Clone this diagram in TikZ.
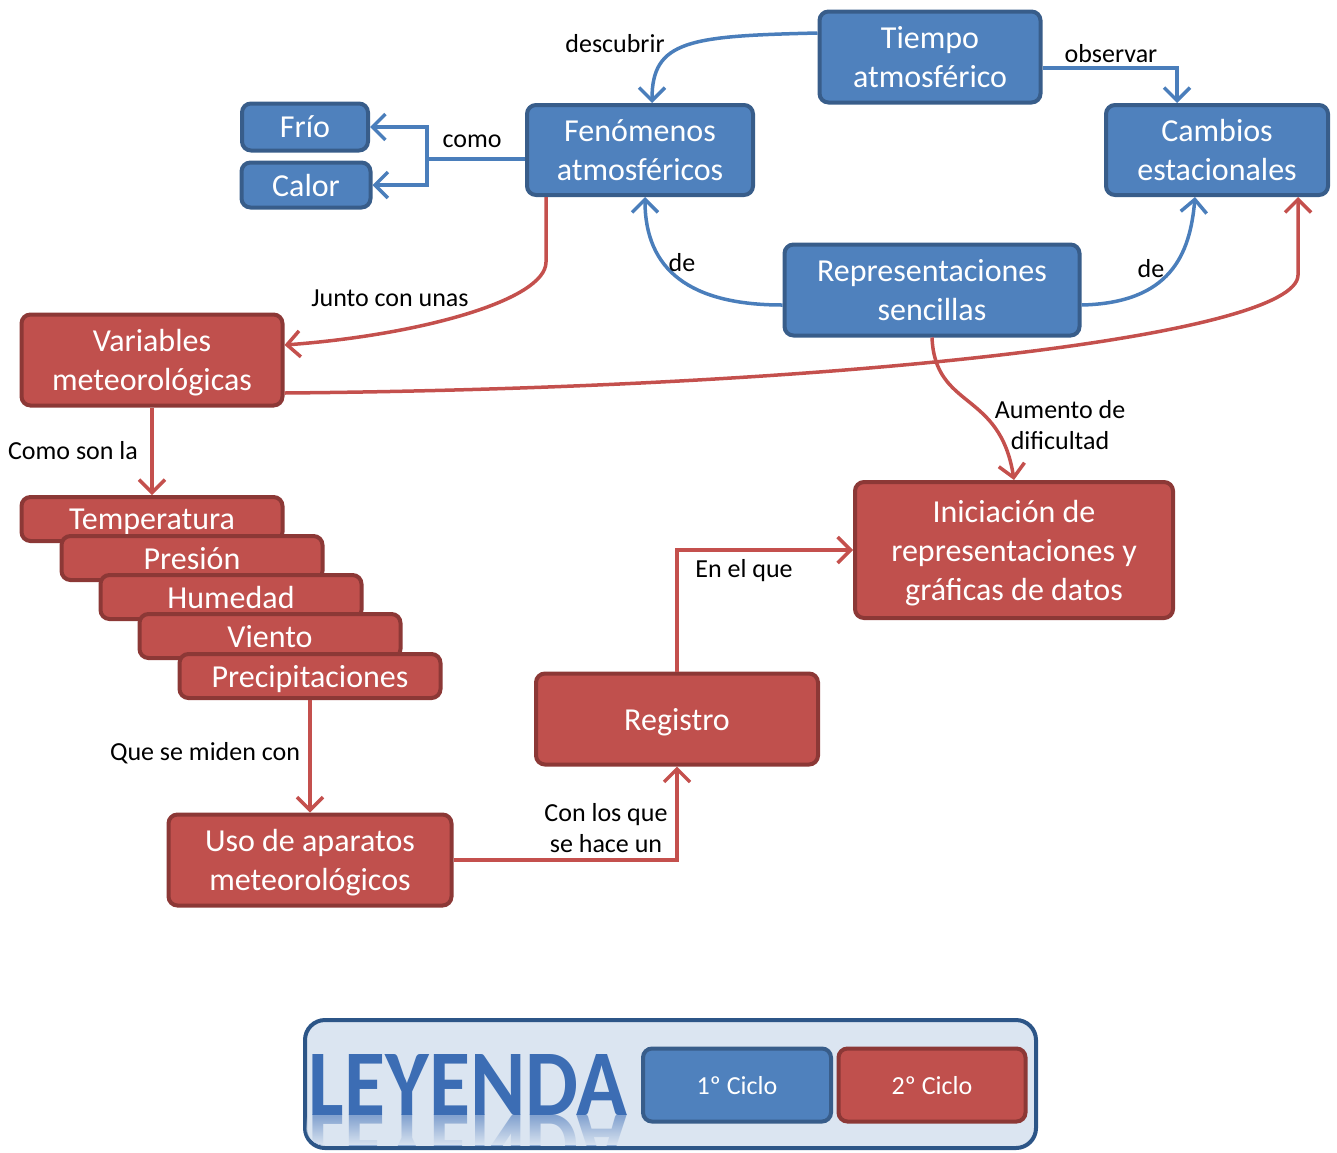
\documentclass[tikz,border=0pt]{standalone}
\usepackage{fontspec}
\setmainfont{Carlito}
\usetikzlibrary{arrows.meta,fadings}
\definecolor{azul}{HTML}{4F81BD}
\definecolor{azulborde}{HTML}{385D8A}
\definecolor{azullinea}{HTML}{4A7EBB}
\definecolor{rojo}{HTML}{C0504D}
\definecolor{rojoborde}{HTML}{8C3836}
\definecolor{rojolinea}{HTML}{C4504D}
\definecolor{fondoley}{HTML}{DBE5F1}
\definecolor{bordeley}{HTML}{2C5587}
\definecolor{letraley}{HTML}{3C6DB4}
\tikzfading[name=bajada,top color=transparent!100,bottom color=transparent!0]

\begin{document}
\begin{tikzpicture}[x=1pt,y=-1pt,
  caja/.style={rounded corners=9pt,line width=4pt,text=white,align=center,
    inner sep=0pt,text depth=-6pt,font=\fontsize{32}{39}\selectfont},
  una/.style={text depth=0pt},
  cazul/.style={caja,fill=azul,draw=azulborde},
  crojo/.style={caja,fill=rojo,draw=rojoborde},
  lista/.style={crojo,una,minimum width=261pt,minimum height=44pt},
  flecha/.style={line width=3.5pt,-{Straight Barb[length=13pt,width=26pt]}},
  fazul/.style={flecha,draw=azullinea},
  frojo/.style={flecha,draw=rojolinea},
  etiq/.style={inner sep=0pt,align=center,font=\fontsize{26}{31}\selectfont}]
  \useasboundingbox (0,0) rectangle (1337,1152);

  % primer ciclo
  \node[cazul,minimum width=221pt,minimum height=91pt] (tiempo) at (930,57) {Tiempo\\atmosférico};
  \node[cazul,minimum width=226pt,minimum height=90pt] (fen) at (640,150) {Fenómenos\\atmosféricos};
  \node[cazul,minimum width=222pt,minimum height=90pt] (camb) at (1217,150) {Cambios\\estacionales};
  \node[cazul,una,minimum width=126pt,minimum height=47pt] (frio) at (305,127) {Frío};
  \node[cazul,una,minimum width=129pt,minimum height=45pt] (calor) at (306,185) {Calor};
  \node[cazul,minimum width=295pt,minimum height=91pt] (rep) at (932,290) {Representaciones\\sencillas};

  % segundo ciclo
  \node[crojo,minimum width=261pt,minimum height=91pt] (var) at (152,360) {Variables\\meteorológicas};
  \node[lista] (temp) at (152,519) {Temperatura};
  \node[lista] (pres) at (192,558) {Presión};
  \node[lista] (hum) at (231,597) {Humedad};
  \node[lista] (vien) at (270,636) {Viento};
  \node[lista] (prec) at (310,676) {Precipitaciones};
  \node[crojo,minimum width=318pt,minimum height=136pt] (ini) at (1014,550) {Iniciación de\\representaciones y\\gráficas de datos};
  \node[crojo,una,minimum width=282pt,minimum height=91pt] (reg) at (677,719) {Registro};
  \node[crojo,minimum width=283pt,minimum height=91pt] (uso) at (310,860) {Uso de aparatos\\meteorológicos};

  % conectores azules
  \draw[fazul] ([yshift=24pt]tiempo.west) .. controls (690,36) and (652,40) .. ([xshift=12pt]fen.north);
  \draw[fazul] ([yshift=-11pt]tiempo.east) -| ([xshift=-40pt]camb.north);
  \coordinate (como) at (427,159);
  \draw[azullinea,line width=3.5pt] ([yshift=-9pt]fen.west) -- (como);
  \draw[fazul] (como) |- (frio.east);
  \draw[fazul] (como) |- (calor.east);
  \draw[fazul] ([yshift=-15pt]rep.west) .. controls (690,305) and (645,270) .. ([xshift=5pt]fen.south);
  \draw[fazul] ([yshift=-15pt]rep.east) .. controls (1170,303) and (1190,255) .. ([xshift=-22pt]camb.south);

  % conectores rojos
  \draw[frojo] ([xshift=-94pt]fen.south) -- (546,262) .. controls (546,300) and (420,335) .. ([yshift=15pt]var.east);
  \draw[frojo] ([yshift=-33pt]var.east) .. controls (850,388) and (1298,335) .. (1298,275) -- ([xshift=81pt]camb.south);
  \draw[frojo] (rep.south) .. controls (935,410) and (1000,390) .. (ini.north);
  \draw[frojo] (var.south) -- (temp.north);
  \draw[frojo] (prec.south) -- (uso.north);
  \draw[frojo] (uso.east) -| (reg.south);
  \draw[frojo] (reg.north) |- (ini.west);

  % etiquetas
  \node[etiq] (ldesc) at (615,44) {descubrir};
  \node[etiq] (lobs) at (1111,54) {observar};
  \node[etiq] (lcomo) at (472,141) {como};
  \node[etiq] (lde1) at (682,263) {de};
  \node[etiq] (lde2) at (1151,269) {de};
  \node[etiq] (ljunto) at (390,298) {Junto con unas};
  \node[etiq] (lcomoson) at (73,451) {Como son la};
  \node[etiq] (laum) at (1060,425) {Aumento de\\dificultad};
  \node[etiq] (lmiden) at (205,753) {Que se miden con};
  \node[etiq] (lhace) at (606,828) {Con los que\\se hace un};
  \node[etiq] (lenel) at (744,571) {En el que};

  % leyenda
  \node[draw=bordeley,fill=fondoley,line width=4pt,rounded corners=20pt,
    minimum width=731pt,minimum height=128pt] (ley) at (670.5,1084) {};
  \begin{scope}
    \clip[rounded corners=18pt] (306,1021) rectangle (1035,1145);
    \node[inner sep=0pt,text=letraley!55!fondoley,font=\fontsize{84}{84}\selectfont\bfseries] (reflejo) at (468,1145) {\scalebox{1}[-1.12]{LEYENDA}};
    \fill[fondoley,path fading=bajada] (306,1116) rectangle (640,1146);
  \end{scope}
  \node[inner sep=0pt,text=letraley,font=\fontsize{84}{84}\selectfont\bfseries] (leytxt) at (468,1085) {\scalebox{1}[1.12]{LEYENDA}};
  \node[cazul,una,minimum width=188pt,minimum height=73pt,font=\fontsize{26}{31}\selectfont] (c1) at (737,1085) {1º Ciclo};
  \node[crojo,una,minimum width=187pt,minimum height=73pt,font=\fontsize{26}{31}\selectfont] (c2) at (932,1085) {2º Ciclo};
\end{tikzpicture}
\end{document}
